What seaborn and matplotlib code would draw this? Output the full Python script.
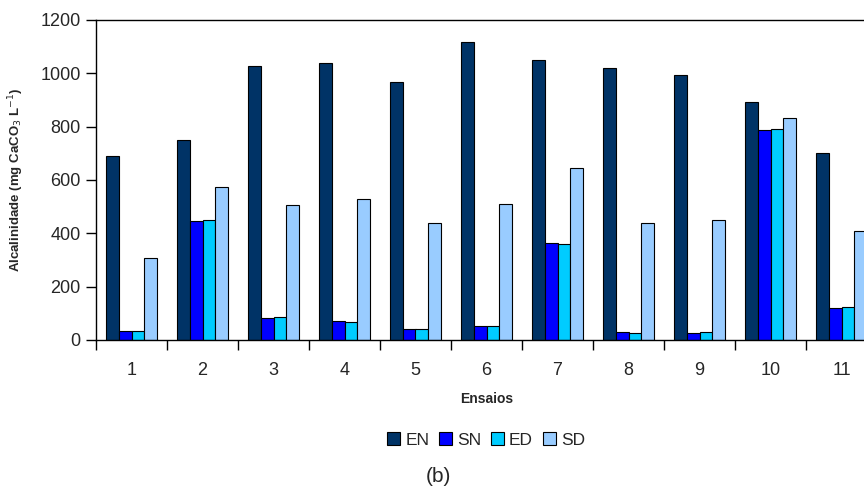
import matplotlib
matplotlib.use("Agg")
import matplotlib.pyplot as plt
import seaborn as sns
import pandas as pd
from matplotlib.ticker import FixedLocator

# Alkalinity per trial and sampling point
ensaios = ["1", "2", "3", "4", "5", "6", "7", "8", "9", "10", "11"]
series = ["EN", "SN", "ED", "SD"]
en = [691, 749, 1026, 1040, 968, 1118, 1050, 1019, 994, 891, 700]
sn = [34, 445, 81, 72, 41, 51, 363, 30, 25, 786, 120]
ed = [34, 449, 85, 69, 41, 51, 359, 28, 29, 790, 125]
sd = [306, 573, 505, 529, 439, 511, 645, 439, 451, 833, 408]
colors = ["#003366", "#0000FF", "#00CCFF", "#99CCFF"]

rows = []
for name, vals in zip(series, [en, sn, ed, sd]):
    for e, v in zip(ensaios, vals):
        rows.append({"Ensaio": e, "Serie": name, "Valor": v})
df = pd.DataFrame(rows)

sns.set_theme(style="white")
plt.rcParams["font.family"] = ["Liberation Sans", "DejaVu Sans"]

fig = plt.figure(figsize=(8.64, 4.91), dpi=100)
ax = fig.add_axes([96 / 864, 1 - 340 / 491, (877 - 96) / 864, (340 - 20) / 491])

sns.barplot(data=df, x="Ensaio", y="Valor", hue="Serie", order=ensaios,
            hue_order=series, palette=colors, width=0.73, gap=0,
            edgecolor="black", linewidth=0.8, saturation=1, ax=ax,
            legend=True)

ax.set_xlim(-0.5, len(ensaios) - 0.5)
ax.set_ylim(0, 1200)
ax.set_yticks(range(0, 1201, 200))

for side in ["left", "bottom", "top"]:
    ax.spines[side].set_visible(True)
    ax.spines[side].set_color("black")
    ax.spines[side].set_linewidth(1.0)
ax.spines["right"].set_visible(False)

ax.tick_params(axis="y", which="major", direction="out", length=7, width=1,
               color="black", labelsize=13, pad=4, left=True)
ax.tick_params(axis="x", which="major", length=0, labelsize=13, pad=16)
ax.xaxis.set_minor_locator(FixedLocator([i - 0.5 for i in range(len(ensaios) + 1)]))
ax.tick_params(axis="x", which="minor", direction="out", length=7, width=1,
               color="black", bottom=True)

ax.set_xlabel("Ensaios", fontsize=10, fontweight="bold", labelpad=9)
ax.set_ylabel("Alcalinidade (mg CaCO$_3$ L$^{-1}$)", fontsize=9.5,
              fontweight="bold", labelpad=10)

handles, labels = ax.get_legend_handles_labels()
ax.get_legend().remove()
fig.legend(handles, labels, loc="center", bbox_to_anchor=(486 / 864, 1 - 440 / 491),
           ncol=4, frameon=False, fontsize=12.5, handlelength=0.75,
           handleheight=0.75, handletextpad=0.3, columnspacing=0.55)

fig.text(438 / 864, 1 - 477 / 491, "(b)", ha="center", va="center", fontsize=15)

fig.savefig("out.png", dpi=100)
